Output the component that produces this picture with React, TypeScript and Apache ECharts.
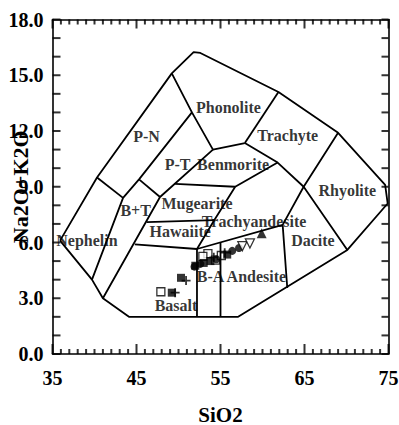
import React, { useEffect, useRef } from "react";
import * as echarts from "echarts";

// ---- axes ----
const SIO2_MIN = 35;
const SIO2_MAX = 75;
const ALK_MIN = 0;
const ALK_MAX = 18;
const xMajorTicks = [35, 45, 55, 65, 75];
const yMajorTicks = [0, 3, 6, 9, 12, 15, 18];

// ---- TAS field boundaries (SiO2, Na2O+K2O) ----
const outerBoundary = [
  [35.9, 6.1], [40.3, 9.5], [49.2, 15.1], [51.8, 16.25], [52.6, 16.2],
  [61.9, 14.1], [69.0, 11.9], [74.6, 9.1], [74.9, 8.1], [70.1, 5.6],
  [57.1, 2.0], [44.1, 2.0], [41.0, 3.0], [39.7, 4.0], [35.9, 6.1],
];
const nephelinitePN = [[40.3, 9.5], [43.4, 8.4]];
const nephelinitePNRight = [[39.7, 4.0], [43.4, 8.4], [45.3, 9.4], [51.6, 13.0]];
const phonoliteLeft = [[49.2, 15.1], [51.6, 13.0], [54.1, 11.0]];
const ptBottom = [[45.3, 9.4], [47.8, 8.45]];
const btRight = [[41.0, 3.0], [47.8, 8.45], [54.1, 11.0]];
const benmoreiteTop = [[54.1, 11.0], [57.9, 11.35]];
const trachytePhonolite = [[61.9, 14.1], [57.9, 11.35]];
const trachyteBase = [[57.9, 11.35], [61.8, 10.3], [64.9, 9.0], [70.1, 5.6]];
const rhyoliteDacite = [[69.0, 11.9], [64.9, 9.0], [62.4, 6.95], [62.95, 3.55]];
const benmoreiteBottom = [[49.6, 9.15], [56.75, 9.0]];
const mugeariteRight = [[61.8, 10.3], [56.75, 9.0], [54.25, 7.2], [52.2, 5.65]];
const hawaiiteTop = [[46.2, 7.1], [54.25, 7.2]];
const hawaiiteBase = [[44.8, 5.9], [52.2, 5.65], [62.4, 6.95]];
const basaltRight = [[52.2, 5.65], [52.2, 2.0]];
const andesiteLeft = [[55.0, 6.0], [55.0, 2.0]];

const boundaries = [
  outerBoundary, nephelinitePN, nephelinitePNRight, phonoliteLeft, ptBottom,
  btRight, benmoreiteTop, trachytePhonolite, trachyteBase, rhyoliteDacite,
  benmoreiteBottom, mugeariteRight, hawaiiteTop, hawaiiteBase, basaltRight,
  andesiteLeft,
];

// ---- field names and where they sit ----
const fieldNames = [
  "P-N", "Phonolite", "Trachyte", "P-T", "Benmorite", "Rhyolite", "Mugearite",
  "B+T", "Hawaiite", "Trachyandesite", "Nephelin", "Dacite", "B-A Andesite", "Basalt",
];
const fieldAnchors = [
  [46.2, 11.7], [55.95, 13.25], [63.0, 11.75], [49.9, 10.2], [56.5, 10.2],
  [70.1, 8.8], [52.2, 8.1], [44.9, 7.7], [50.2, 6.6], [59.0, 7.15],
  [39.1, 6.1], [66.0, 6.1], [57.5, 4.15], [49.7, 2.6],
];

// ---- samples ----
const openSquares = [[47.9, 3.35], [53.5, 5.4], [54.4, 5.05], [52.9, 5.25], [55.1, 5.3]];
const filledSquares = [[49.2, 3.3], [50.3, 4.1], [52.0, 4.75], [53.0, 4.9], [53.8, 5.0], [55.8, 5.35]];
const filledCircles = [[51.9, 4.7], [52.6, 4.85], [54.5, 5.1], [56.4, 5.55], [57.2, 5.7]];
const plusMarks = [[49.6, 3.3], [50.9, 3.95], [54.2, 5.2], [55.5, 5.45]];
const filledTriangles = [[59.9, 6.5]];
const openTrianglesDown = [[57.6, 5.8], [58.5, 5.95]];

const FONT = "'Liberation Serif', 'Times New Roman', serif";
const sx = (p: number[]) => [p[0] - SIO2_MIN, p[1]];
const steps = (a: number, b: number) => {
  const out: number[] = [];
  for (let v = a; v <= b; v += 1) out.push(v);
  return out;
};

const VBAR = "path://M0,0H1V10H0Z";
const HBAR = "path://M0,0H10V1H0Z";

export default function App() {
  const ref = useRef<HTMLDivElement>(null);
  useEffect(() => {
    if (!ref.current) return;
    const chart = echarts.init(ref.current, undefined, { renderer: "svg" });
    const lineSeries = boundaries.map((b) => ({
      type: "line",
      data: b.map(sx),
      symbol: "none",
      lineStyle: { color: "#000", width: 1.8 },
    }));
    const markerSeries = [
      { data: openSquares, symbol: "rect", symbolSize: 8, itemStyle: { color: "#fff", borderColor: "#000", borderWidth: 1.3 } },
      { data: filledSquares, symbol: "rect", symbolSize: 8, itemStyle: { color: "#000" } },
      { data: filledCircles, symbol: "circle", symbolSize: 8, itemStyle: { color: "#000" } },
      { data: plusMarks, symbol: "path://M4,0H6V4H10V6H6V10H4V6H0V4H4Z", symbolSize: 9, itemStyle: { color: "#000" } },
      { data: filledTriangles, symbol: "triangle", symbolSize: 10, itemStyle: { color: "#000" } },
      { data: openTrianglesDown, symbol: "triangle", symbolRotate: 180, symbolSize: 9, itemStyle: { color: "#fff", borderColor: "#000", borderWidth: 1.3 } },
    ].map((s) => ({ type: "scatter", ...s, data: s.data.map(sx) }));

    const xMinor = steps(SIO2_MIN, SIO2_MAX).filter((v) => !xMajorTicks.includes(v));
    const yMinor = steps(ALK_MIN, ALK_MAX).filter((v) => !yMajorTicks.includes(v));
    const tickSeries = (data: number[][], symbol: string, size: number[], offset: number[]) => ({
      type: "scatter",
      silent: true,
      clip: false,
      symbol,
      symbolSize: size,
      symbolOffset: offset,
      itemStyle: { color: "#000" },
      data: data.map(sx),
      z: 3,
    });
    const ticks = [
      tickSeries(xMinor.map((v) => [v, ALK_MIN]), VBAR, [2, 5], [0, -2.5]),
      tickSeries(xMajorTicks.map((v) => [v, ALK_MIN]), VBAR, [2, 10], [0, -5]),
      tickSeries(xMinor.map((v) => [v, ALK_MAX]), VBAR, [2, 5], [0, 2.5]),
      tickSeries(xMajorTicks.map((v) => [v, ALK_MAX]), VBAR, [2, 9], [0, 4.5]),
      tickSeries([...yMinor, ...yMajorTicks].map((v) => [SIO2_MIN, v]), HBAR, [8, 2], [4, 0]),
      tickSeries([...yMinor, ...yMajorTicks].map((v) => [SIO2_MAX, v]), HBAR, [7, 2], [-3.5, 0]),
    ];

    const labelSeries = {
      type: "scatter",
      symbolSize: 0,
      data: fieldNames.map((n, i) => ({ name: n, value: sx(fieldAnchors[i]) })),
      label: {
        show: true,
        position: "inside",
        formatter: "{b}",
        color: "#000",
        fontFamily: FONT,
        fontWeight: "bold",
        fontSize: 16,
      },
    };

    const axisLine = () => ({ show: true, onZero: false, lineStyle: { color: "#000", width: 1.6 } });
    chart.setOption({
      animation: false,
      backgroundColor: "#fff",
      grid: { left: 52.5, right: 10.5, top: 19.5, bottom: 71, outerBoundsMode: "none" },
      xAxis: [
        {
          type: "value", min: 0, max: SIO2_MAX - SIO2_MIN, interval: 10, position: "bottom",
          axisLine: axisLine(),
          axisTick: { show: false },
          splitLine: { show: false },
          name: "SiO2",
          nameLocation: "middle",
          nameGap: 50,
          nameMoveOverlap: false,
          nameTextStyle: { fontFamily: FONT, fontWeight: "bold", fontSize: 21, color: "#000" },
          axisLabel: {
            margin: 14, fontFamily: FONT, fontWeight: "bold", fontSize: 20, color: "#000",
            formatter: (v: number) => String(v + SIO2_MIN),
          },
        },
        {
          type: "value", min: 0, max: SIO2_MAX - SIO2_MIN, interval: 10, position: "top",
          axisLine: axisLine(),
          axisTick: { show: false },
          splitLine: { show: false },
          axisLabel: { show: false },
        },
      ],
      yAxis: [
        {
          type: "value", min: ALK_MIN, max: ALK_MAX, interval: 3, position: "left",
          axisLine: axisLine(),
          axisTick: { show: false },
          splitLine: { show: false },
          name: "Na2O+K2O",
          nameLocation: "middle",
          nameRotate: 90,
          nameGap: 21,
          nameMoveOverlap: false,
          nameTextStyle: { fontFamily: FONT, fontWeight: "bold", fontSize: 22, color: "#000" },
          axisLabel: {
            margin: 9, fontFamily: FONT, fontWeight: "bold", fontSize: 20, color: "#000",
            formatter: (v: number) => v.toFixed(1),
          },
        },
        {
          type: "value", min: ALK_MIN, max: ALK_MAX, interval: 3, position: "right",
          axisLine: axisLine(),
          axisTick: { show: false },
          splitLine: { show: false },
          axisLabel: { show: false },
        },
      ],
      series: [...lineSeries, ...ticks, ...markerSeries, labelSeries],
    });
    return () => chart.dispose();
  }, []);
  return (
    <div
      ref={ref}
      style={{ position: "fixed", left: 0, top: 0, width: 399, height: 425, background: "#fff" }}
    />
  );
}
